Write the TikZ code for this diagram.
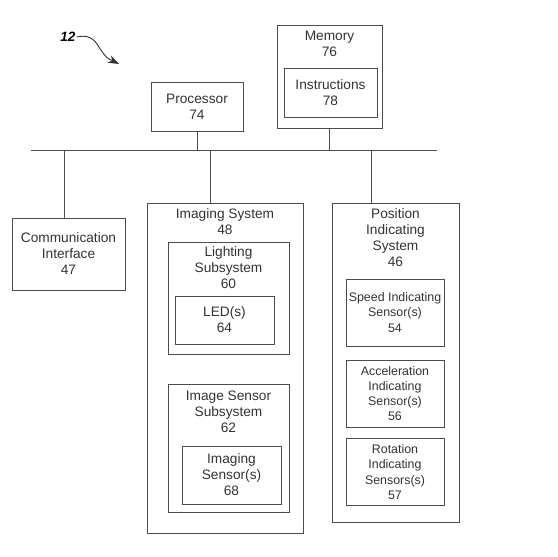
\documentclass[tikz,border=0pt]{standalone}
\usepackage{fontspec}
\setmainfont{Liberation Sans}
\usetikzlibrary{positioning}
\usetikzlibrary{arrows.meta}

\tikzset{
  blk/.style={draw=black!70, line width=.9pt, align=center, inner sep=1pt, text=black!80, font=\fontsize{13.7}{16}\selectfont},
  ttl/.style={align=center, inner sep=1pt, text=black!80, font=\fontsize{13.7}{16}\selectfont},
  sml/.style={font=\fontsize{12.4}{15.2}\selectfont},
  wire/.style={black!70, line width=.9pt}
}

\begin{document}
\begin{tikzpicture}[x=1pt,y=-1pt]
\useasboundingbox (0,0) rectangle (558,557);

% reference numeral
\node[font=\fontsize{13.5}{13.5}\bfseries\itshape, inner sep=1pt] (ref) at (68,37) {12};
\coordinate (refTip) at (119,64);
\draw[black!80, line width=.9pt, -{Stealth[length=11pt,width=8pt]}] (ref.east) .. controls (95,33) and (97,46) .. (103,53) .. controls (107,58) .. (refTip);

% bus
\coordinate (busL) at (31,150);
\coordinate (busR) at (437,150);
\draw[wire] (busL) -- (busR);

% processor and memory
\node[blk, minimum width=92pt, minimum height=49pt] (proc) at (197,106.5) {Processor\\74};
\node[blk, minimum width=105pt, minimum height=103pt] (mem) at (329.5,76.5) {};
\node[ttl, below=5pt of mem.north] (memT) {Memory\\76};
\node[blk, minimum width=93pt, minimum height=49pt] (instr) at (330.5,92.5) {Instructions\\78};
\draw[wire] (proc.south) -- (proc.south |- busL);
\draw[wire] (mem.south) -- (mem.south |- busL);

% communication interface
\node[blk, minimum width=113pt, minimum height=72pt] (comm) at (68.5,254) {Communication\\Interface\\47};

% imaging system
\node[blk, minimum width=156pt, minimum height=330pt] (imgsys) at (225,368) {};
\node[ttl, below=5pt of imgsys.north] (imgsysT) {Imaging System\\48};
\node[blk, minimum width=121pt, minimum height=112pt] (light) at (228.5,298) {};
\node[ttl, below=4pt of light.north] (lightT) {Lighting\\Subsystem\\60};
\node[blk, minimum width=99pt, minimum height=48pt] (led) at (224.5,320) {LED(s)\\64};
\node[blk, minimum width=121pt, minimum height=128pt] (imgsub) at (228.5,448) {};
\node[ttl, below=6pt of imgsub.north] (imgsubT) {Image Sensor\\Subsystem\\62};
\node[blk, minimum width=99pt, minimum height=58pt] (imgsens) at (231.5,475) {Imaging\\Sensor(s)\\68};

% position indicating system
\node[blk, minimum width=127pt, minimum height=319pt] (pos) at (395.5,362.5) {};
\node[ttl, below=5pt of pos.north] (posT) {Position\\Indicating\\System\\46};
\foreach \y/\nm/\txt in {312.5/speed/{Speed Indicating\\Sensor(s)\\54},
                         393.5/accel/{Acceleration\\Indicating\\Sensor(s)\\56},
                         472/rot/{Rotation\\Indicating\\Sensors(s)\\57}} {
  \node[blk, sml, minimum width=98pt, minimum height=67pt] (\nm) at (395,\y) {\txt};
}

% drops from the bus
\coordinate (b1) at (64,150);
\coordinate (b2) at (210,150);
\coordinate (b3) at (371,150);
\draw[wire] (b1) -- (b1 |- comm.north);
\draw[wire] (b2) -- (b2 |- imgsys.north);
\draw[wire] (b3) -- (b3 |- pos.north);
\end{tikzpicture}
\end{document}
